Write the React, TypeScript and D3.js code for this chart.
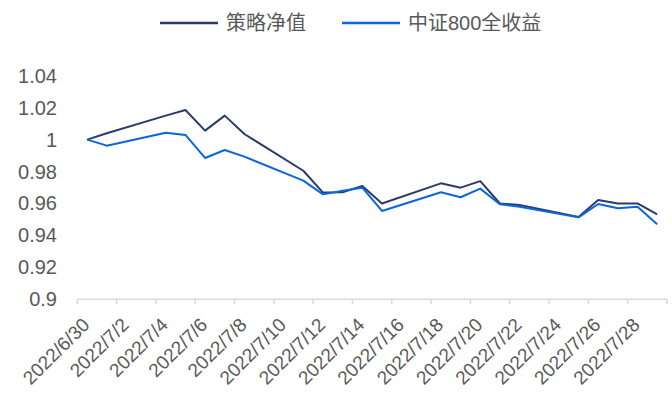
import { useRef, useEffect } from 'react';
import * as d3 from 'd3';

// trading days
const dates = [
    '2022-06-30', '2022-07-01', '2022-07-04', '2022-07-05', '2022-07-06', '2022-07-07',
    '2022-07-08', '2022-07-11', '2022-07-12', '2022-07-13', '2022-07-14', '2022-07-15',
    '2022-07-18', '2022-07-19', '2022-07-20', '2022-07-21', '2022-07-22', '2022-07-25',
    '2022-07-26', '2022-07-27', '2022-07-28', '2022-07-29',
];

const strategyNav = [
    1.000, 1.004, 1.015, 1.0185, 1.0056, 1.015, 1.0035, 0.9805, 0.9668, 0.967, 0.971,
    0.960, 0.9726, 0.9699, 0.974, 0.960, 0.959, 0.9515, 0.9622, 0.960, 0.960, 0.9532,
];

const csi800 = [
    1.000, 0.9962, 1.0043, 1.0029, 0.9885, 0.9935, 0.9893, 0.9743, 0.9657, 0.968, 0.9699,
    0.9553, 0.967, 0.9639, 0.9693, 0.9595, 0.958, 0.9513, 0.9597, 0.957, 0.958, 0.947,
];

const seriesNames = ['策略净值', '中证800全收益'];
const seriesColors = ['#2b3b6b', '#0a66de'];
const yTicks = [0.9, 0.92, 0.94, 0.96, 0.98, 1, 1.02, 1.04];

const W = 672;
const H = 399;
const FONT = '"Liberation Sans", Arial, "Noto Sans CJK SC", sans-serif';

const parse = d3.timeParse('%Y-%m-%d');

export default function App() {
    const svgRef = useRef<SVGSVGElement>(null);

    useEffect(() => {
        if (!svgRef.current) return;
        const svg = d3.select(svgRef.current);
        svg.selectAll('*').remove();

        const start = parse('2022-06-30') as Date;
        const end = parse('2022-07-30') as Date;

        const x = d3.scaleTime().domain([start, end]).range([77.3, 667]);
        const y = d3.scaleLinear().domain([0.9, 1.04]).range([299.3, 75.7]);

        // point sits in the middle of its day slot
        const mid = (s: string) => d3.timeHour.offset(parse(s) as Date, 12);

        // Y labels
        svg.append('g')
            .selectAll('text')
            .data(yTicks)
            .enter()
            .append('text')
            .attr('x', 57)
            .attr('y', d => y(d))
            .attr('dy', '0.35em')
            .attr('text-anchor', 'end')
            .attr('fill', '#595959')
            .style('font-family', FONT)
            .style('font-size', '20px')
            .text(d => String(+d.toFixed(2)));

        // X axis line + ticks
        const axis = svg.append('g');
        axis.append('line')
            .attr('x1', x(start)).attr('x2', x(end))
            .attr('y1', y(0.9)).attr('y2', y(0.9))
            .attr('stroke', '#d9d9d9')
            .attr('stroke-width', 1.5);

        const tickDays = d3.timeDay.range(start, d3.timeDay.offset(end, 1), 2);
        axis.selectAll('.tick')
            .data(tickDays)
            .enter()
            .append('line')
            .attr('class', 'tick')
            .attr('x1', d => x(d)).attr('x2', d => x(d))
            .attr('y1', y(0.9)).attr('y2', y(0.9) + 5)
            .attr('stroke', '#d9d9d9')
            .attr('stroke-width', 1.5);

        const fmt = d3.timeFormat('%Y/%-m/%-d');
        axis.selectAll('.xl')
            .data(tickDays.slice(0, -1))
            .enter()
            .append('text')
            .attr('class', 'xl')
            .attr('text-anchor', 'end')
            .attr('transform', d => `translate(${x(d3.timeHour.offset(d, 12)) + 3.5},326) rotate(-45)`)
            .attr('fill', '#595959')
            .style('font-family', FONT)
            .style('font-size', '19px')
            .text(d => fmt(d));

        // Lines
        const line = d3.line<number>()
            .x((_d, i) => x(mid(dates[i])))
            .y(d => y(d));

        [strategyNav, csi800].forEach((s, i) => {
            svg.append('path')
                .datum(s)
                .attr('d', line)
                .attr('fill', 'none')
                .attr('stroke', seriesColors[i])
                .attr('stroke-width', 2)
                .attr('stroke-linejoin', 'round');
        });

        // Legend
        const legendX = [160, 342];
        seriesNames.forEach((name, i) => {
            const g = svg.append('g').attr('transform', `translate(${legendX[i]},23)`);
            g.append('line')
                .attr('x1', 0).attr('x2', 58)
                .attr('y1', 0).attr('y2', 0)
                .attr('stroke', seriesColors[i])
                .attr('stroke-width', 2.5);
            g.append('text')
                .attr('x', 66)
                .attr('y', 6.5)
                .attr('fill', '#595959')
                .style('font-family', FONT)
                .style('font-size', '20px')
                .text(name);
        });
    }, []);

    return (
        <svg
            ref={svgRef}
            width={W}
            height={H}
            style={{ position: 'absolute', left: 0, top: 0, background: '#fff' }}
        />
    );
}
